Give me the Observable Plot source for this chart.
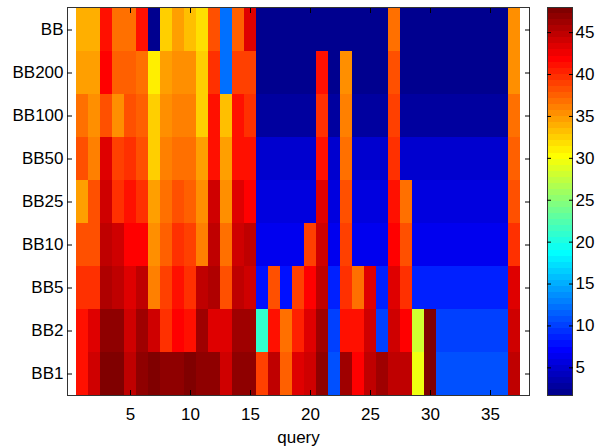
<!DOCTYPE html>
<html><head><meta charset="utf-8">
<script src="https://cdn.jsdelivr.net/npm/d3@7"></script>
<script src="https://cdn.jsdelivr.net/npm/@observablehq/plot@0.6"></script>
<style>
body{margin:0;background:#fff;}
#wrap{position:relative;width:595px;height:447px;}
#wrap svg{position:absolute;top:0;}
</style>
</head><body><div id="wrap"></div>
<script>
const rows = ["BB","BB200","BB100","BB50","BB25","BB10","BB5","BB2","BB1"];
const queries = d3.range(1, 38);
const xTicks = [5,10,15,20,25,30,35];
const cbTicks = [5,10,15,20,25,30,35,40,45];
const cmin = 1.7, cmax = 48;

const bb    = [34.1,34.1,40.8,37.1,37.1,40.8,1.7,32.6,34.5,33.1,31.6,37.9,12.1,37.8,43.0, 1.7,1.7,1.7,1.7,1.7,1.7,1.7,1.7,1.7,1.7,1.7, 37.1, 1.7,1.7,1.7,1.7,1.7,1.7,1.7,1.7,1.7, 35.0];
const bb200 = [34.5,34.5,41.5,37.3,37.3,37.1,31.3,34.3,35.0,35.0,32.1,40.0,12.1,38.6,38.6, 2.2,2.2,2.2,2.2,2.2, 40.8, 2.2, 35.0, 2.2,2.2,2.2, 37.9, 2.2,2.2,2.2,2.2,2.2,2.2,2.2,2.2,2.2, 35.3];
const bb100 = [37.1,35.3,37.9,35.3,38.3,37.8,32.1,35.0,35.8,35.8,32.6,40.8,33.1,40.8,40.0, 3.0,3.0,3.0,3.0,3.0, 40.0, 3.0, 35.8, 3.0,3.0,3.0, 38.6, 3.0,3.0,3.0,3.0,3.0,3.0,3.0,3.0,3.0, 37.1];
const bb50  = [37.9,36.4,43.0,38.6,40.0,37.9,32.6,35.8,37.1,36.8,34.5,41.3,34.5,41.3,40.8, 5.2,5.2,5.2,5.2,5.2, 41.3, 5.2, 36.8, 5.2,5.2,5.2, 40.0, 5.2,5.2,5.2,5.2,5.2,5.2,5.2,5.2,5.2, 37.6];
const bb25  = [34.3,37.9,43.8,40.0,40.8,40.0,34.3,37.1,37.9,37.6,35.0,43.8,35.0,43.0,41.5, 5.9,5.9,5.9,5.9,5.9, 43.0, 5.9, 37.9, 5.9,5.9,5.9, 40.8, 37.1, 5.9,5.9,5.9,5.9,5.9,5.9,5.9,5.9, 38.3];
const bb10  = [38.3,38.3,44.5,43.8,41.5,41.5,35.0,37.6,40.0,38.6,35.8,44.5,37.1,43.8,44.5, 6.5,6.5,6.5,6.5, 38.6, 43.8, 6.5, 38.6, 6.5,6.5,6.5, 41.5, 37.9, 6.5,6.5,6.5,6.5,6.5,6.5,6.5,6.5, 40.0];
const bb5   = [39.5,39.5,45.8,44.5,43.0,44.5,35.8,38.6,40.8,40.0,44.5,45.8,37.9,44.5,43.8, 8.2,37.9,8.2,38.6,41.5,44.5,8.9,40.0,37.1,43.0,8.9,43.0,40.0, 8.9,8.9,8.9,8.9,8.9,8.9,8.9,8.9, 43.0];
const bb2   = [40.8,43.0,46.6,46.6,43.8,46.1,43.8,40.0,41.5,41.3,46.1,43.0,43.0,46.1,46.1, 20.6,40.8,37.1,40.3,43.0,46.1,9.7,40.8,40.8,43.8,9.7,43.8,41.5,28.2,47.4, 9.9,9.9,9.9,9.9,9.9,9.9, 43.8];
const bb1   = [41.3,43.8,48.0,47.3,44.5,46.6,47.3,46.6,46.6,47.6,46.6,46.6,43.8,46.6,46.6, 38.6,44.5,37.6,43.0,43.8,46.6,10.4,46.1,41.5,44.5,46.1,44.5,44.5,29.3,48.0, 10.4,10.4,10.4,10.4,10.4,10.4, 44.5];

const series = [bb, bb200, bb100, bb50, bb25, bb10, bb5, bb2, bb1];
const table = [];
rows.forEach((r, i) => series[i].forEach((v, j) => table.push({row: r, q: queries[j], v})));

// MATLAB jet(64)
const jetTable = (() => {
  const m = 64, n = Math.ceil(m / 4), u = [];
  for (let j = 1; j <= n; j++) u.push(j / n);
  for (let j = 1; j < n; j++) u.push(1);
  for (let j = n; j >= 1; j--) u.push(j / n);
  const gOff = Math.ceil(n / 2) - (m % 4 === 1 ? 1 : 0);
  const J = Array.from({length: m}, () => [0, 0, 0]);
  u.forEach((val, idx) => {
    const g = gOff + idx + 1, r = g + n, b = g - n;
    if (g >= 1 && g <= m) J[g - 1][1] = val;
    if (r >= 1 && r <= m) J[r - 1][0] = val;
    if (b >= 1 && b <= m) J[b - 1][2] = val;
  });
  return J.map(([r, g, b]) => `rgb(${Math.round(r*255)},${Math.round(g*255)},${Math.round(b*255)})`);
})();
const jet = (t) => jetTable[Math.max(0, Math.min(63, Math.floor(t * 64)))];

const font = {fontFamily: "'Liberation Sans', Arial, Helvetica, sans-serif", fontSize: "17px", background: "transparent", overflow: "visible", color: "#000"};
const colorOpts = {type: "linear", domain: [cmin, cmax], interpolate: jet, clamp: true};

const main = Plot.plot({
  width: 595, height: 447,
  marginLeft: 67, marginRight: 66, marginTop: 7, marginBottom: 52,
  style: font,
  x: {type: "band", domain: queries, padding: 0},
  y: {type: "band", domain: rows, padding: 0},
  color: colorOpts,
  marks: [
    Plot.cell(table, {x: "q", y: "row", fill: "v", inset: 0, shapeRendering: "crispEdges"}),
    Plot.frame({stroke: "#333"}),
    Plot.axisX({ticks: xTicks, anchor: "bottom", tickSize: 5, dy: -5, tickFormat: () => "", label: null}),
    Plot.axisX({ticks: xTicks, anchor: "top", tickSize: 5, dy: 5, tickFormat: () => "", label: null}),
    Plot.axisX({ticks: xTicks, anchor: "bottom", tickSize: 0, tickPadding: 12, label: "query", labelAnchor: "center", labelOffset: 47}),
    Plot.axisY({anchor: "left", tickSize: 5, dx: 5, tickFormat: () => "", label: null}),
    Plot.axisY({anchor: "right", tickSize: 5, dx: -5, tickFormat: () => "", label: null}),
    Plot.axisY({anchor: "left", tickSize: 0, tickPadding: 4, label: null})
  ]
});

const cbBins = d3.range(64).map(i => ({y1: cmin + i * (cmax - cmin) / 64, y2: cmin + (i + 1) * (cmax - cmin) / 64}));
const cb = Plot.plot({
  width: 48, height: 447,
  marginLeft: 0, marginRight: 23, marginTop: 7, marginBottom: 52,
  style: font,
  y: {domain: [cmin, cmax]},
  color: colorOpts,
  marks: [
    Plot.rect(cbBins, {y1: "y1", y2: "y2", fill: d => (d.y1 + d.y2) / 2, shapeRendering: "crispEdges"}),
    Plot.frame({stroke: "#333"}),
    Plot.axisY({ticks: cbTicks, anchor: "left", tickSize: 4, dx: 4, tickFormat: () => "", label: null}),
    Plot.axisY({ticks: cbTicks, anchor: "right", tickSize: 4, dx: -4, tickFormat: () => "", label: null}),
    Plot.axisY({ticks: cbTicks, anchor: "right", tickSize: 0, tickPadding: 3, label: null})
  ]
});
cb.style.left = "547px";
main.style.left = "0px";
const wrap = document.getElementById("wrap");
wrap.appendChild(main);
wrap.appendChild(cb);
</script>
</body></html>
